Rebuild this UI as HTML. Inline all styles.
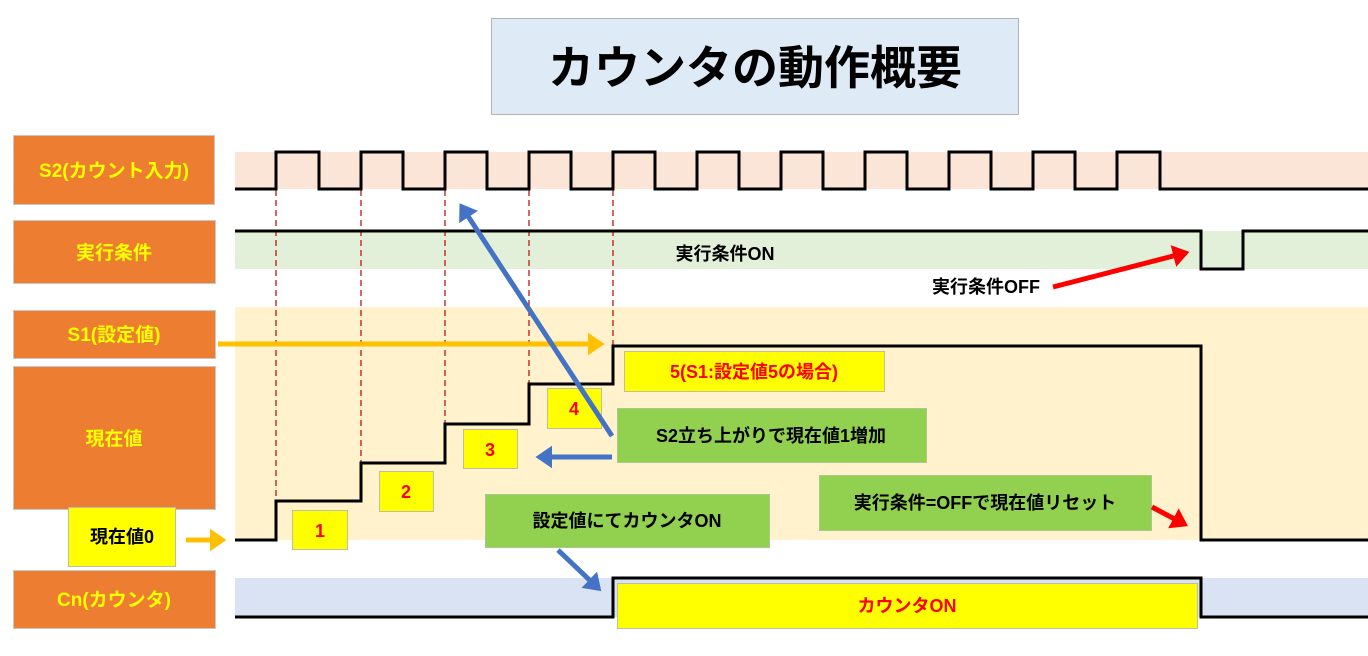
<!DOCTYPE html>
<html><head><meta charset="utf-8"><style>
html,body{margin:0;padding:0;background:#fff;}
svg{display:block;}
text{font-family:"Liberation Sans","Noto Sans CJK JP",sans-serif;font-weight:bold;}
</style></head><body>
<svg width="1368" height="656" viewBox="0 0 1368 656" xmlns="http://www.w3.org/2000/svg">
<defs>
<marker id="ao" markerWidth="5" markerHeight="5" refX="2.4" refY="2.25" orient="auto" markerUnits="strokeWidth"><path d="M0,0 L3.3,2.25 L0,4.5 z" fill="#FFC000"/></marker>
<marker id="ab" markerWidth="5" markerHeight="5" refX="2.4" refY="2.25" orient="auto" markerUnits="strokeWidth"><path d="M0,0 L3.3,2.25 L0,4.5 z" fill="#4472C4"/></marker>
<marker id="ar" markerWidth="5" markerHeight="5" refX="2.4" refY="2.25" orient="auto" markerUnits="strokeWidth"><path d="M0,0 L3.3,2.25 L0,4.5 z" fill="#FF0000"/></marker>
</defs>
<rect x="491.5" y="18.5" width="527" height="96" fill="#DEEBF7" stroke="#B4B4B4"/>
<text x="755" y="84" font-size="46" text-anchor="middle" fill="#000">カウンタの動作概要</text>
<rect x="235" y="152" width="1133" height="37" fill="#FBE5D6"/>
<rect x="235" y="231" width="1133" height="38" fill="#E2F0D9"/>
<rect x="235" y="307" width="1133" height="233" fill="#FFF2CC"/>
<rect x="235" y="578" width="1133" height="39" fill="#DAE3F3"/>
<g fill="#ED7D31" stroke="#C8C8C8">
<rect x="13.5" y="135.5" width="201" height="69"/>
<rect x="13.5" y="220.5" width="202" height="63"/>
<rect x="13.5" y="310.5" width="202" height="48"/>
<rect x="13.5" y="366.5" width="202" height="143"/>
<rect x="13.5" y="570.5" width="202" height="58"/>
</g>
<g fill="#FFFF00" font-size="19" text-anchor="middle">
<text x="114" y="177">S2(カウント入力)</text>
<text x="114" y="259">実行条件</text>
<text x="114" y="341">S1(設定値)</text>
<text x="114" y="445">現在値</text>
<text x="114" y="606">Cn(カウンタ)</text>
</g>
<g stroke="#C00000" stroke-width="1.2" stroke-dasharray="6,4">
<line x1="276" y1="190" x2="276" y2="501"/>
<line x1="361" y1="190" x2="361" y2="463"/>
<line x1="445" y1="190" x2="445" y2="424"/>
<line x1="529" y1="190" x2="529" y2="384"/>
<line x1="613" y1="190" x2="613" y2="346"/>
</g>
<g fill="none" stroke="#000" stroke-width="3">
<polyline points="235,189 276,189 276,152 319,152 319,189 361,189 361,152 403,152 403,189 445,189 445,152 487,152 487,189 529,189 529,152 571,152 571,189 613,189 613,152 655,152 655,189 697,189 697,152 739,152 739,189 781,189 781,152 823,152 823,189 865,189 865,152 907,152 907,189 949,189 949,152 991,152 991,189 1033,189 1033,152 1075,152 1075,189 1117,189 1117,152 1160,152 1160,189 1368,189"/>
<polyline points="235,231 1201,231 1201,269 1243,269 1243,231 1368,231"/>
<polyline points="235,540 276,540 276,501 361,501 361,463 445,463 445,424 529,424 529,384 613,384 613,346 1201,346 1201,540 1368,540"/>
<polyline points="235,617 613,617 613,578 1201,578 1201,617 1368,617"/>
</g>
<g stroke="#BFBF9F">
<rect x="624.5" y="351.5" width="260" height="40" fill="#FFFF00"/>
<rect x="292.5" y="510.5" width="55" height="39" fill="#FFFF00"/>
<rect x="379.5" y="471.5" width="54" height="40" fill="#FFFF00"/>
<rect x="463.5" y="429.5" width="54" height="39" fill="#FFFF00"/>
<rect x="547.5" y="388.5" width="54" height="40" fill="#FFFF00"/>
<rect x="68.5" y="507.5" width="107" height="59" fill="#FFFF00"/>
<rect x="617.5" y="583.5" width="580" height="45" fill="#FFFF00"/>
</g>
<g fill="#92D050" stroke="#A9C98A">
<rect x="617.5" y="408.5" width="309" height="54"/>
<rect x="485.5" y="494.5" width="284" height="53"/>
<rect x="819.5" y="475.5" width="332" height="55"/>
</g>
<g font-size="18" text-anchor="middle">
<text x="754" y="378" fill="#FF0000">5(S1:設定値5の場合)</text>
<text x="320" y="537" fill="#FF0000">1</text>
<text x="406" y="498" fill="#FF0000">2</text>
<text x="490" y="456" fill="#FF0000">3</text>
<text x="574" y="415" fill="#FF0000">4</text>
<text x="907" y="612" fill="#FF0000">カウンタON</text>
<text x="122" y="543" fill="#000">現在値0</text>
<text x="771" y="442" fill="#000">S2立ち上がりで現在値1増加</text>
<text x="627" y="527" fill="#000">設定値にてカウンタON</text>
<text x="985" y="509" fill="#000">実行条件=OFFで現在値リセット</text>
<text x="725" y="260" fill="#000">実行条件ON</text>
<text x="986" y="293" fill="#000">実行条件OFF</text>
</g>
<g fill="none" stroke-width="5">
<line x1="218" y1="344" x2="600" y2="344" stroke="#FFC000" marker-end="url(#ao)"/>
<line x1="186" y1="540" x2="222" y2="540" stroke="#FFC000" marker-end="url(#ao)"/>
<line x1="612" y1="436" x2="462" y2="207" stroke="#4472C4" marker-end="url(#ab)"/>
<line x1="612" y1="457" x2="540" y2="457" stroke="#4472C4" marker-end="url(#ab)"/>
<line x1="558" y1="550" x2="598" y2="588" stroke="#4472C4" marker-end="url(#ab)"/>
<line x1="1053" y1="287" x2="1185" y2="253" stroke="#FF0000" marker-end="url(#ar)"/>
<line x1="1152" y1="507" x2="1184" y2="524" stroke="#FF0000" marker-end="url(#ar)"/>
</g>
</svg>
</body></html>
